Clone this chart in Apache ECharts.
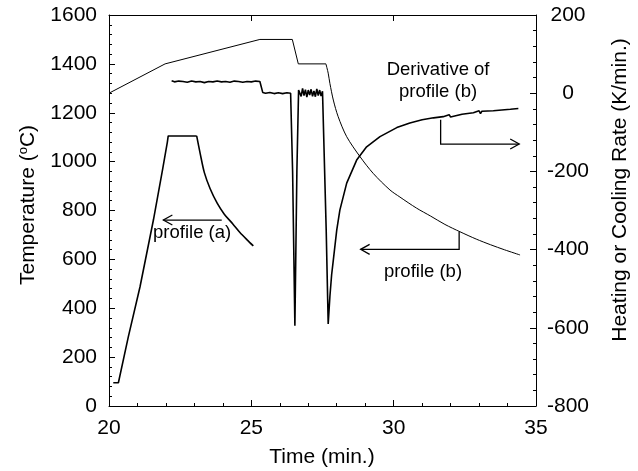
<!DOCTYPE html>
<html>
<head>
<meta charset="utf-8">
<script src="https://cdn.jsdelivr.net/npm/echarts@6/dist/echarts.min.js"></script>
<style>html,body{margin:0;padding:0;background:#fff}#c{width:638px;height:471px}</style>
</head>
<body>
<div id="c"></div>
<script>
// ---- data ----
var xTicks = [20, 25, 30, 35];
var leftTicks = [0, 200, 400, 600, 800, 1000, 1200, 1400, 1600];
var rightTicks = [-800, -600, -400, -200, 0, 200];

// profile (a): temperature, left axis
var profileA_t = [20.15, 20.33, 20.68, 21.09, 21.56, 21.88, 22.05, 22.08, 22.4, 22.8, 23.08];
var profileA_T = [95, 95, 284, 488, 761, 966, 1080, 1105, 1105, 1105, 1105];
var profileAdecay_t = [23.08, 23.2, 23.35, 23.55, 23.8, 24.05, 24.35, 24.6, 24.85, 25.07];
var profileAdecay_T = [1105, 1035, 955, 890, 830, 785, 745, 710, 680, 655];

// profile (b): temperature, left axis
var profileB_t = [20.0, 21.97, 25.30, 26.44, 26.65, 27.62];
var profileB_T = [1280, 1400, 1500, 1500, 1400, 1400];
var profileBdecay_t = [27.62, 27.70, 27.76, 27.88, 28.05, 28.35, 28.82, 29.28, 29.87, 30.22, 30.8, 31.3, 31.8, 32.33, 32.9, 33.4, 33.9, 34.44];
var profileBdecay_T = [1400, 1362, 1320, 1252, 1184, 1102, 1020, 952, 884, 855, 810, 777, 743, 713, 683, 660, 639, 618];

// derivative of profile (b): rate, right axis
var deriv_t = [22.2, 22.3, 22.45, 22.6, 22.75, 22.9, 23.05, 23.2, 23.35, 23.5, 23.65, 23.8, 23.95, 24.1, 24.25, 24.4, 24.55, 24.7, 24.85, 25.0, 25.15, 25.3, 25.36,
  25.4, 25.5, 25.65, 25.8, 25.95, 26.1, 26.25, 26.38, 26.45, 26.53, 26.6, 26.66,
  26.7, 26.75, 26.8, 26.85, 26.9, 26.95, 27.0, 27.05, 27.1, 27.15, 27.2, 27.25, 27.3, 27.35, 27.4, 27.45, 27.5, 27.55,
  27.63, 27.70, 27.76, 27.82, 27.88, 28.0, 28.11, 28.35, 28.7, 29.05, 29.52, 30.11, 30.57, 31.0, 31.4, 31.74, 31.95, 32.0, 32.05, 32.4, 32.8, 33.0, 33.05, 33.1, 33.15, 33.5, 33.8, 34.1, 34.38];
var deriv_R = [32, 29, 31, 30, 28, 31, 29, 30, 27, 30, 29, 31, 29, 30, 28, 31, 30, 28, 30, 29, 31, 30, 30,
  2, 0, 2, -1, 1, -1, 1, 0, -200, -595, -200, 8,
  5, -8, 12, -6, 9, -10, 8, -5, 10, -8, 6, -9, 11, -6, 8, -7, 5, 0,
  -350, -590, -520, -465, -427, -350, -299, -230, -171, -137, -111, -88, -76, -68, -63, -60, -55, -61, -56, -54, -50, -45, -52, -46, -47, -45, -43, -41, -39];

function zip(a, b) { return a.map(function (v, i) { return [v, b[i]]; }); }

var FONT = 'Liberation Sans, Arial, sans-serif';
var chart = echarts.init(document.getElementById('c'), null, {renderer: 'canvas'});

var tickStyle = {color: '#000', width: 1};
function plain(v) { return String(v); }
function baseAxis(o) {
  return Object.assign({
    type: 'value',
    axisLine: {show: true, onZero: false, lineStyle: {color: '#000', width: 1}},
    axisTick: {show: true, inside: true, length: 6, lineStyle: tickStyle},
    minorTick: {show: true, splitNumber: 5, length: 3, lineStyle: tickStyle},
    splitLine: {show: false},
    axisLabel: {color: '#000', fontSize: 21, fontFamily: FONT, formatter: plain}
  }, o);
}

var lineBlack = function (w) { return {color: '#000', width: w}; };

chart.setOption({
  animation: false,
  backgroundColor: '#fff',
  grid: {left: 109, right: 102, top: 15, bottom: 65, show: false},
  xAxis: [
    baseAxis({min: xTicks[0], max: xTicks[xTicks.length - 1], interval: 5, position: 'bottom',
      axisLabel: {color: '#000', fontSize: 21, fontFamily: FONT, margin: 12, formatter: plain}}),
    baseAxis({min: xTicks[0], max: xTicks[xTicks.length - 1], interval: 5, position: 'top',
      axisLabel: {show: false}, minorTick: {show: false}})
  ],
  yAxis: [
    baseAxis({min: leftTicks[0], max: leftTicks[leftTicks.length - 1], interval: 200, position: 'left',
      axisLabel: {color: '#000', fontSize: 21, fontFamily: FONT, margin: 12, formatter: plain}}),
    baseAxis({min: rightTicks[0], max: rightTicks[rightTicks.length - 1], interval: 200, position: 'right',
      axisLabel: {color: '#000', fontSize: 21, fontFamily: FONT, margin: 32, align: 'center', formatter: plain}})
  ],
  series: [
    {type: 'line', name: 'profile (a)', xAxisIndex: 0, yAxisIndex: 0, data: zip(profileA_t, profileA_T),
      showSymbol: false, lineStyle: lineBlack(1.6)},
    {type: 'line', name: 'profile (a) cooling', xAxisIndex: 0, yAxisIndex: 0, data: zip(profileAdecay_t, profileAdecay_T),
      showSymbol: false, smooth: 0.3, lineStyle: lineBlack(1.6)},
    {type: 'line', name: 'profile (b)', xAxisIndex: 0, yAxisIndex: 0, data: zip(profileB_t, profileB_T),
      showSymbol: false, lineStyle: lineBlack(1)},
    {type: 'line', name: 'profile (b) cooling', xAxisIndex: 0, yAxisIndex: 0, data: zip(profileBdecay_t, profileBdecay_T),
      showSymbol: false, smooth: 0.3, lineStyle: lineBlack(1)},
    {type: 'line', name: 'Derivative of profile (b)', xAxisIndex: 0, yAxisIndex: 1, data: zip(deriv_t, deriv_R),
      showSymbol: false, lineStyle: lineBlack(1.6)}
  ]
});

// annotations positioned through the axes
function pL(t, v) { return chart.convertToPixel({xAxisIndex: 0, yAxisIndex: 0}, [t, v]); }
function pR(t, v) { return chart.convertToPixel({xAxisIndex: 0, yAxisIndex: 1}, [t, v]); }
var ls = {stroke: '#000', lineWidth: 1.3, fill: null};
function poly(points) { return {type: 'polyline', shape: {points: points}, style: ls, z: 10}; }
function headLeft(p) { return poly([[p[0] + 9, p[1] - 5], p, [p[0] + 9, p[1] + 5]]); }
function headRight(p) { return poly([[p[0] - 9, p[1] - 5], p, [p[0] - 9, p[1] + 5]]); }
function txt(p, s) {
  return {type: 'text', x: p[0], y: p[1], z: 10, style: {text: s, fill: '#000', font: '18.5px ' + FONT, align: 'center', verticalAlign: 'middle'}};
}

var aFrom = pL(23.96, 761), aTo = pL(21.91, 761);
var b0 = pL(32.30, 713), b1 = pL(32.30, 641), b2 = pL(28.84, 641);
var d0 = pR(31.65, -68), d1 = pR(31.65, -130), d2 = pR(34.41, -130);

chart.setOption({
  graphic: [
    poly([aFrom, aTo]), headLeft(aTo),
    txt(pL(22.92, 708), 'profile (a)'),
    poly([b0, b1, b2]), headLeft(b2),
    txt(pL(31.03, 548), 'profile (b)'),
    poly([d0, d1, d2]), headRight(d2),
    txt(pR(31.56, 59), 'Derivative of'),
    txt(pR(31.56, 3), 'profile (b)'),
    {type: 'text', x: 322, y: 457, style: {text: 'Time (min.)', fill: '#000', font: '21px ' + FONT, align: 'center', verticalAlign: 'middle'}},
    {type: 'text', x: 28, y: 205, rotation: Math.PI / 2, style: {
      text: 'Temperature ({s|o}C)', fill: '#000', font: '21px ' + FONT, align: 'center', verticalAlign: 'middle',
      rich: {s: {fontSize: 13, fontFamily: FONT, fill: '#000', padding: [0, 0, 9, 0]}}}},
    {type: 'text', x: 620, y: 190, rotation: Math.PI / 2, style: {text: 'Heating or Cooling Rate (K/min.)', fill: '#000', font: '21px ' + FONT, align: 'center', verticalAlign: 'middle'}}
  ]
});
</script>
</body>
</html>
